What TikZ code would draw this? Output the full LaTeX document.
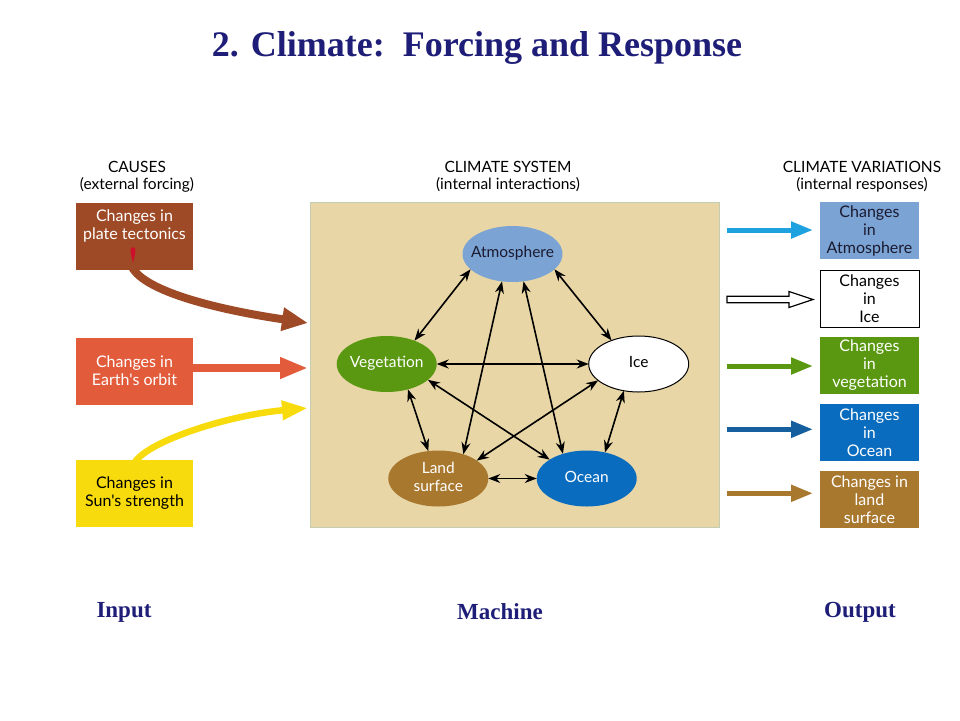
\documentclass[tikz,border=0pt]{standalone}
\usepackage{fontspec}
\setmainfont{Liberation Serif}
\newfontfamily\opt{Lato}
\usetikzlibrary{arrows.meta,shapes.geometric,calc}
\definecolor{titleblue}{HTML}{1E1E78}
\definecolor{tecton}{HTML}{9E4A26}
\definecolor{orbit}{HTML}{E25C3C}
\definecolor{sun}{HTML}{F8DB0C}
\definecolor{sysfill}{HTML}{E8D6A6}
\definecolor{sysline}{HTML}{C2CDB4}
\definecolor{atm}{HTML}{7BA3D3}
\definecolor{veg}{HTML}{5A9811}
\definecolor{land}{HTML}{A9782F}
\definecolor{ocean}{HTML}{0A6CBE}
\definecolor{atmarrow}{HTML}{1DA1DF}
\definecolor{oceanarrow}{HTML}{155F9F}
\definecolor{drip}{HTML}{D0102B}
\definecolor{darktext}{HTML}{1A1A30}
\newcommand{\mk}[1]{\makebox[0pt][c]{\begin{tabular}{@{}c@{}}#1\end{tabular}}}
\tikzset{
  hdr/.style={font=\opt\fontsize{15.5}{17}\selectfont, align=center, inner sep=0pt},
  boxfont/.style={font=\opt\fontsize{16}{18}\selectfont},
  causebox/.style={rectangle, minimum width=117pt, minimum height=67pt, inner sep=0pt, outer sep=0pt,
    boxfont, align=center},
  respbox/.style={rectangle, minimum width=99pt, minimum height=57pt, inner sep=0pt, outer sep=0pt,
    boxfont, align=center},
  comp/.style={ellipse, minimum width=100pt, minimum height=56pt, inner sep=0pt, outer sep=0pt,
    font=\opt\fontsize{15.5}{18}\selectfont},
  link/.style={{Stealth[length=12pt,width=9pt]}-{Stealth[length=12pt,width=9pt]}, line width=1.6pt, black},
  outarrow/.style={line width=5pt, -{Triangle[width=16pt,length=22pt]}, shorten >=7pt},
  bottomlabel/.style={font=\fontsize{23}{26}\selectfont\bfseries, text=titleblue, inner sep=0pt},
}
\begin{document}
\begin{tikzpicture}[x=1pt,y=-1pt]
\fill[white] (0,0) rectangle (960,720);
\useasboundingbox (0,0) rectangle (960,720);

% title
\node[font=\fontsize{36}{40}\selectfont\bfseries, text=titleblue, inner sep=0pt] (title) at (477,48)
  {2. Climate:\ \ Forcing and Response};

% headings
\node[hdr] (hcauses) at (137,177) {CAUSES\\(external forcing)};
\node[hdr] (hsystem) at (508,177) {CLIMATE SYSTEM\\(internal interactions)};
\node[hdr] (hvar) at (862,177) {CLIMATE VARIATIONS\\(internal responses)};

% climate system box
\node[rectangle, minimum width=409pt, minimum height=325pt, fill=sysfill, draw=sysline, line width=1pt] (sys) at (514.5,364.5) {};

% causes
\node[causebox, fill=tecton] (tbox) at (134.5,236.5) {};
\node[boxfont, align=center, text=white, inner sep=0pt] (ttext) at (134.5,226) {Changes in\\plate tectonics};
\node[causebox, fill=orbit, text=white] (obox) at (134.5,371) {Changes in\\Earth's orbit};
\node[causebox, fill=sun, text=black] (sbox) at (134.5,493.5) {Changes in\\Sun's strength};

% drip
\fill[drip] (133,263) .. controls (131.6,257) and (130.3,252) .. (130.6,249.5)
  .. controls (131,246.5) and (135,246.5) .. (135.4,249.5)
  .. controls (135.7,252) and (134.4,257) .. (133,263) -- cycle;

% forcing arrows
\coordinate (tsrc) at (132,267);
\coordinate (tin) at ($(sys.west)+(-1.5,-41.5)$);
\coordinate (oin) at ($(sys.west)+(-1.5,3.5)$);
\coordinate (sin) at ($(sys.west)+(-1.5,43.5)$);
\coordinate (ssrc) at (135,462);
\draw[tecton, line width=8pt, -{Triangle[width=22pt,length=26pt]}] (tsrc) .. controls (145,292) and (220,310) .. (tin);
\draw[orbit, line width=8pt, -{Triangle[width=20pt,length=28pt]}] (obox.east |- oin) -- (oin);
\draw[sun, line width=6.5pt, -{Triangle[width=18pt,length=26pt]}] (ssrc) .. controls (150,440) and (230,415) .. (sin);

% components
\node[comp, fill=atm, text=darktext] (atmo) at (512.5,254) {\mk{Atmosphere}};
\node[comp, fill=veg, text=white] (vege) at (386.7,364) {\mk{Vegetation}};
\node[comp, fill=white, draw=black, line width=1pt, text=black] (ice) at (638.7,364) {\mk{Ice}};
\node[comp, fill=land, text=white] (lands) at (438.3,478.5) {\mk{Land\\surface}};
\node[comp, fill=ocean, text=white] (ocea) at (586.7,478.5) {\mk{Ocean}};

% interactions
\draw[link] (atmo.-160) -- (vege.40.6);
\draw[link] (atmo.-20) -- (ice.139.8);
\draw[link] (atmo.-111.3) -- (lands.44.4);
\draw[link] (atmo.-68.7) -- (ocea.134.8);
\draw[link] (vege.0) -- (ice.180);
\draw[link] (vege.-21.5) -- (ocea.153);
\draw[link] (ice.-158.7) -- (lands.25.7);
\draw[link] (vege.-50) -- (lands.110.5);
\draw[link] (ice.-119) -- (ocea.55.7);
\draw[link] (lands.0) -- (ocea.180);

% responses
\node[respbox, fill=atm, text=darktext] (ratm) at (869.5,230.8) {Changes\\in\\Atmosphere};
\node[respbox, fill=white, draw=black, line width=1pt, text=black] (rice) at (869.5,298.8) {Changes\\in\\Ice};
\node[respbox, fill=veg, text=white] (rveg) at (869.5,365.5) {Changes\\in\\vegetation};
\node[respbox, fill=ocean, text=white] (rocean) at (869.5,432.5) {Changes\\in\\Ocean};
\node[respbox, fill=land, text=white] (rland) at (869.5,499.3) {Changes in\\land\\surface};

\coordinate (a1) at (726.7,230);
\coordinate (a3) at (726.7,366);
\coordinate (a4) at (726.7,429.3);
\coordinate (a5) at (726.7,493.3);
\draw[outarrow, atmarrow] (a1) -- (a1 -| ratm.west);
\draw[outarrow, veg] (a3) -- (a3 -| rveg.west);
\draw[outarrow, oceanarrow] (a4) -- (a4 -| rocean.west);
\draw[outarrow, land] (a5) -- (a5 -| rland.west);
% hollow arrow to ice
\coordinate (a2) at (727,299.5);
\draw[black, line width=1.2pt, fill=white, line join=miter]
  ($(a2)+(0,-3.2)$) -- ($(a2)+(62,-3.2)$) -- ($(a2)+(62,-8)$) -- ($(rice.west |- a2)+(-7,0)$)
  -- ($(a2)+(62,8)$) -- ($(a2)+(62,3.2)$) -- ($(a2)+(0,3.2)$) -- cycle;

% bottom labels
\node[bottomlabel] (linput) at (124,612) {Input};
\node[bottomlabel] (lmachine) at (500,612) {Machine};
\node[bottomlabel] (loutput) at (860,612) {Output};
\end{tikzpicture}
\end{document}
